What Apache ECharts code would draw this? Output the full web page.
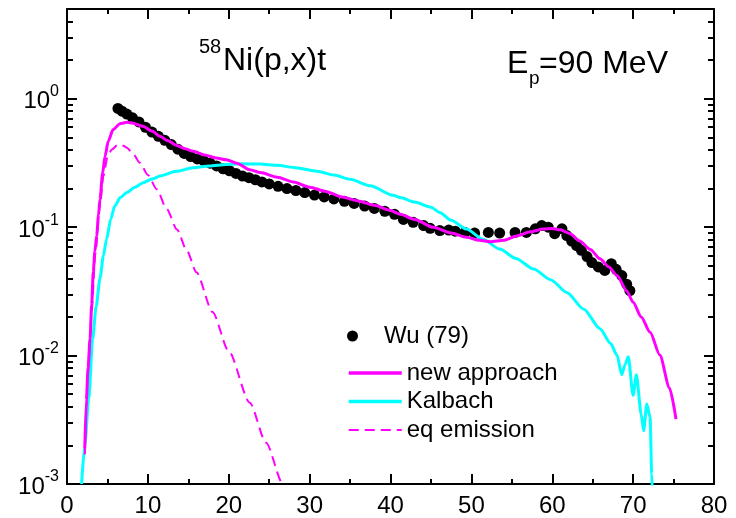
<!DOCTYPE html>
<html>
<head>
<meta charset="utf-8">
<script src="https://cdn.jsdelivr.net/npm/echarts@6/dist/echarts.min.js"></script>
<style>html,body{margin:0;padding:0;background:#fff}#c{width:736px;height:518px}</style>
</head>
<body>
<div id="c"></div>
<script>
// ---- data (energy in MeV, cross section values) ----
const wuE = [6.3,6.8,7.4,8.1,8.9,9.7,10.5,11.3,12.1,12.9,13.7,14.5,15.3,16.1,16.9,17.7,18.5,19.3,20.1,20.9,21.7,22.5,23.3,24.1,25.0,26.1,27.2,28.3,29.4,30.6,31.8,33.0,34.3,35.5,36.8,38.0,39.3,40.5,41.6,42.8,44.1,44.9,46.1,47.2,48.0,49.2,50.4,52.1,53.5,55.4,56.8,57.9,58.7,59.5,60.3,61.2,61.8,62.4,63.0,63.6,64.3,64.9,65.7,66.5,67.3,67.9,68.6,69.2,69.6];
const wuV = [0.84,0.80,0.76,0.71,0.66,0.60,0.55,0.51,0.475,0.44,0.405,0.375,0.355,0.34,0.33,0.315,0.30,0.285,0.275,0.262,0.25,0.243,0.234,0.225,0.217,0.208,0.200,0.193,0.186,0.178,0.172,0.166,0.159,0.153,0.146,0.140,0.133,0.126,0.115,0.109,0.103,0.098,0.094,0.095,0.093,0.091,0.090,0.091,0.090,0.091,0.091,0.097,0.103,0.100,0.089,0.097,0.086,0.078,0.072,0.066,0.059,0.053,0.049,0.046,0.052,0.047,0.042,0.036,0.032];

const newE = [2.2,2.4,2.6,2.85,3.05,3.25,3.45,3.67,3.9,4.08,4.41,4.7,5.1,5.7,6.55,7.4,8.2,9.4,10.5,11.5,12.5,13.5,14.5,15.6,17,18.5,19.7,21,22.6,23.9,26,28,30,32,34,36,38,40,41.2,43,45.3,47.5,49.4,51,52.3,54,55.6,57.3,58.9,60,61,62.2,63.4,64.7,65.9,67,68,69.2,70,71,72.1,73.3,74.5,75.3];
const newV = [0.0019,0.0045,0.008,0.0135,0.025,0.045,0.065,0.086,0.125,0.165,0.265,0.357,0.467,0.575,0.64,0.655,0.645,0.61,0.56,0.51,0.47,0.435,0.41,0.39,0.365,0.345,0.335,0.315,0.28,0.266,0.245,0.225,0.205,0.19,0.172,0.16,0.148,0.135,0.126,0.115,0.0997,0.09,0.0834,0.079,0.077,0.079,0.0855,0.092,0.0966,0.0975,0.0955,0.089,0.078,0.067,0.0567,0.049,0.042,0.032,0.026,0.02,0.0152,0.0101,0.0056,0.0032];

const kalE = [1.8,2.2,2.7,3.17,3.6,4.08,4.5,4.9,5.4,5.9,6.6,7.4,8.4,9.4,10.5,11.5,13.5,15.6,17.6,19.7,21.7,23.9,26,28,30.9,33,35,37.5,40.3,41.2,43,45,46.1,47.5,49.4,51.5,53.5,55.5,57.7,59.8,61.8,63.9,65.9,67.2,68,68.6,69.0,69.4,70.0,70.4,71.0,71.3,71.7,72.1,72.3,72.4];
const kalV = [0.001,0.002,0.0047,0.0135,0.024,0.04,0.06,0.081,0.115,0.146,0.17,0.186,0.205,0.222,0.237,0.25,0.272,0.29,0.30,0.308,0.312,0.31,0.303,0.292,0.273,0.255,0.236,0.21,0.177,0.17,0.157,0.143,0.13,0.113,0.0966,0.08,0.0675,0.057,0.0472,0.039,0.031,0.023,0.0162,0.0125,0.0101,0.0071,0.0085,0.0098,0.0049,0.0071,0.0035,0.0026,0.0042,0.0033,0.0012,0.0008];

const eqE = [2.2,2.6,3.05,3.5,4.08,4.5,5.0,5.5,6.3,7.0,7.4,8.2,9.0,10,11.1,12.3,13.6,14.8,16.0,18,20,22.6,24.6,26.7,27];
const eqV = [0.0017,0.0072,0.022,0.062,0.15,0.25,0.35,0.40,0.44,0.43,0.415,0.37,0.318,0.255,0.197,0.14,0.096,0.066,0.0446,0.0218,0.0108,0.0043,0.0021,0.001,0.0009];

const xTicks = [0,10,20,30,40,50,60,70,80];
const yDecades = [-3,-2,-1,0];
const yMaxValue = 5;

// ---- chart ----
const FONT = '"Liberation Sans", Arial, sans-serif';
const yMax = Math.log10(yMaxValue);
const minorVals = [];
yDecades.forEach(n => { for (let k = 2; k <= 9; k++) { const v = Math.log10(k * Math.pow(10, n)); if (v <= yMax) minorVals.push(v); } });
const toPts = (E, V) => E.map((e, i) => [e, Math.log10(V[i])]);

const lineBlack = { color: '#000', width: 2 };
function xAx(pos, showLabel) {
  return {
    type: 'value', position: pos, min: 0, max: 80, interval: 10,
    axisLine: { show: true, onZero: false, lineStyle: lineBlack },
    axisTick: { show: true, inside: true, length: 10, lineStyle: lineBlack },
    minorTick: { show: true, splitNumber: 2, length: 5, lineStyle: lineBlack },
    axisLabel: { show: showLabel, fontSize: 24, color: '#000', fontFamily: FONT, margin: 10,
      customValues: xTicks },
    splitLine: { show: false }, minorSplitLine: { show: false }
  };
}
function yAx(pos, major, showLine) {
  return {
    type: 'value', position: pos, min: -3, max: yMax, interval: 1,
    axisLine: { show: showLine, onZero: false, lineStyle: lineBlack },
    axisTick: { show: true, inside: true, length: major ? 10 : 6, lineStyle: lineBlack,
      customValues: major ? yDecades : minorVals },
    axisLabel: major && pos === 'left' ? {
      show: true, customValues: yDecades, margin: 8,
      formatter: v => '{b|10}{s|' + String(Math.round(v)) + '}',
      rich: {
        b: { fontSize: 24, fontFamily: FONT, color: '#000', lineHeight: 30, verticalAlign: 'bottom' },
        s: { fontSize: 16, fontFamily: FONT, color: '#000', lineHeight: 16, verticalAlign: 'top' }
      }
    } : { show: false },
    splitLine: { show: false }
  };
}

const chart = echarts.init(document.getElementById('c'), null, { renderer: 'canvas' });
chart.setOption({
  backgroundColor: '#fff',
  animation: false,
  grid: { left: 67, right: 22, top: 9, bottom: 33, containLabel: false },
  xAxis: [xAx('bottom', true), xAx('top', false)],
  yAxis: [yAx('left', true, true), yAx('left', false, false), yAx('right', true, true), yAx('right', false, false)],
  legend: [
    { data: [{ name: 'Wu (79)', icon: 'circle' }], left: 347, top: 324, padding: 0,
      itemWidth: 53, itemHeight: 11, orient: 'vertical',
      textStyle: { fontSize: 24, fontFamily: FONT, color: '#000', lineHeight: 24 } },
    { data: [
        { name: 'new approach', lineStyle: { width: 3.5, color: '#ff00ff' } },
        { name: 'Kalbach', lineStyle: { width: 3.5, color: '#00ffff' } },
        { name: 'eq emission', lineStyle: { width: 2, color: '#ff00ff', type: [10, 6] } }
      ], left: 347, top: 361, padding: 0,
      itemWidth: 53, itemHeight: 14, itemGap: 4.5, orient: 'vertical',
      itemStyle: { opacity: 0 },
      textStyle: { fontSize: 24, fontFamily: FONT, color: '#000', lineHeight: 24 } }
  ],
  graphic: [
    { type: 'text', x: 199, y: 47, style: { text: '58', fontSize: 20, fontFamily: FONT, fill: '#000', verticalAlign: 'middle' } },
    { type: 'text', x: 223, y: 61, style: { text: 'Ni(p,x)t', fontSize: 32, fontFamily: FONT, fill: '#000', verticalAlign: 'middle' } },
    { type: 'text', x: 507, y: 64, style: { text: 'E', fontSize: 32, fontFamily: FONT, fill: '#000', verticalAlign: 'middle' } },
    { type: 'text', x: 529, y: 79, style: { text: 'p', fontSize: 19, fontFamily: FONT, fill: '#000', verticalAlign: 'middle' } },
    { type: 'text', x: 539, y: 64, style: { text: '=90 MeV', fontSize: 32, fontFamily: FONT, fill: '#000', verticalAlign: 'middle' } }
  ],
  series: [
    { name: 'Wu (79)', type: 'scatter', data: toPts(wuE, wuV), symbol: 'circle', symbolSize: 11,
      itemStyle: { color: '#000', opacity: 1 }, z: 2 },
    { name: 'Kalbach', type: 'line', data: toPts(kalE, kalV), symbol: 'none', showSymbol: false,
      smooth: 0.25, smoothMonotone: 'x', clip: true, lineStyle: { color: '#00ffff', width: 3 }, itemStyle: { color: '#00ffff' }, z: 3 },
    { name: 'new approach', type: 'line', data: toPts(newE, newV), symbol: 'none', showSymbol: false,
      smooth: 0.25, smoothMonotone: 'x', clip: true, lineStyle: { color: '#ff00ff', width: 3 }, itemStyle: { color: '#ff00ff' }, z: 4 },
    { name: 'eq emission', type: 'line', data: toPts(eqE, eqV), symbol: 'none', showSymbol: false,
      smooth: 0.25, smoothMonotone: 'x', clip: true, lineStyle: { color: '#ff00ff', width: 2, type: [10, 6] }, itemStyle: { color: '#ff00ff' }, z: 4 }
  ]
});
</script>
</body>
</html>
